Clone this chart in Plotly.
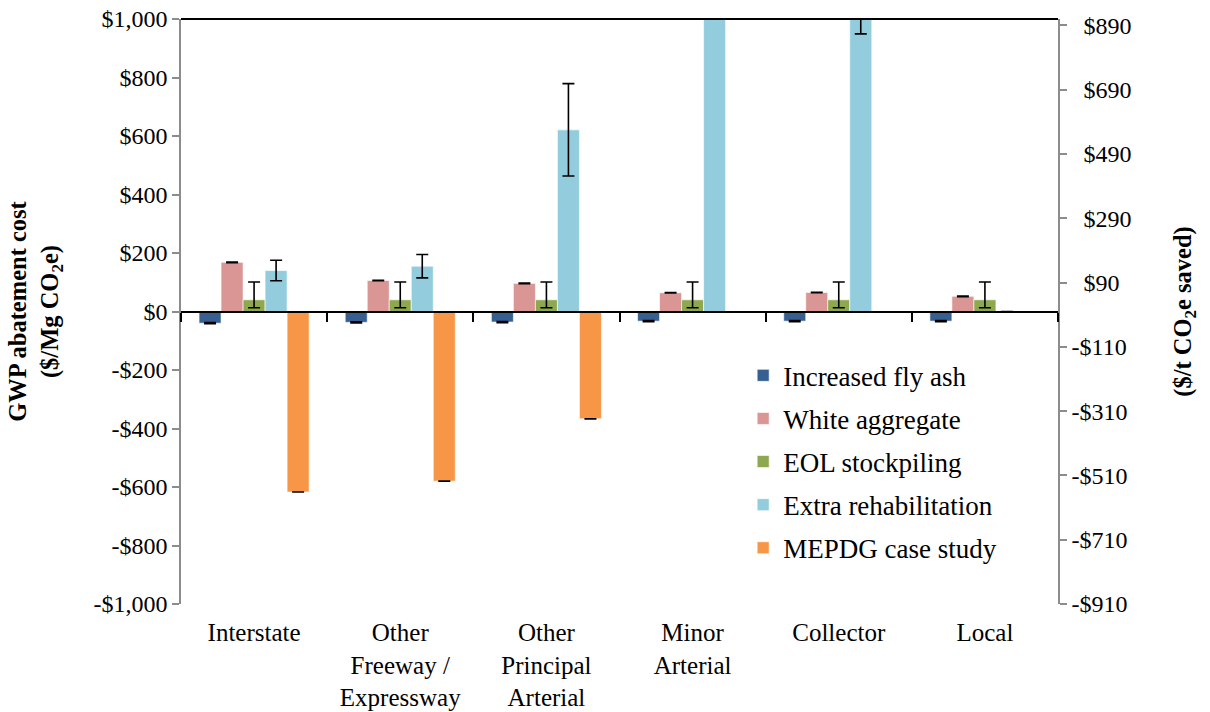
import plotly.graph_objects as go

categories = ["Interstate", "Other<br>Freeway /<br>Expressway", "Other<br>Principal<br>Arterial",
              "Minor<br>Arterial", "Collector", "Local"]

fly_ash = [-40, -37, -36, -33, -33, -33]
fly_ash_err = [2, 2, 2, 2, 2, 2]
white_agg = [168, 106, 96, 64, 65, 52]
white_agg_err = [1, 1, 1, 1, 1, 1]
eol = [40, 40, 40, 40, 40, 40]
eol_err_plus = [61, 61, 61, 61, 61, 61]
eol_err_minus = [27, 27, 27, 27, 27, 27]
rehab = [140, 155, 621, 1500, 1100, 0]
rehab_err = [35, 40, 158, 300, 151, 0]
mepdg = [-617, -580, -367, None, None, None]
mepdg_err = [0, 0, 0, 0, 0, 0]

left_ticks = [-1000, -800, -600, -400, -200, 0, 200, 400, 600, 800, 1000]
right_ticks = [-910, -710, -510, -310, -110, 90, 290, 490, 690, 890]
right_range = [-910, 910]
left_range = [-1000, 1000]

FONT = "Liberation Serif, Times New Roman, serif"


def money(v, pad=""):
    s = "${:,.0f}".format(abs(v))
    return ("-" + s) if v < 0 else pad + s


series = [
    ("Increased fly ash", fly_ash, dict(array=fly_ash_err), "#376092"),
    ("White aggregate", white_agg, dict(array=white_agg_err), "#D99694"),
    ("EOL stockpiling", eol, dict(array=eol_err_plus, arrayminus=eol_err_minus, symmetric=False), "#8EA84F"),
    ("Extra rehabilitation", rehab, dict(array=rehab_err), "#93CDDD"),
    ("MEPDG case study", mepdg, dict(array=mepdg_err), "#F79646"),
]

fig = go.Figure()
for i, (name, vals, err, col) in enumerate(series):
    e = dict(type="data", visible=True, color="black", thickness=1.6, width=6)
    e.update(err)
    fig.add_trace(go.Bar(
        name=name, x=categories, y=vals, marker=dict(color=col, line=dict(color="rgba(255,255,255,0.6)", width=1)),
        error_y=e, legendgroup=f"g{i}",
    ))

# helper trace for the secondary axes (no data)
fig.add_trace(go.Scatter(x=[], y=[], xaxis="x2", yaxis="y2", showlegend=False, hoverinfo="skip"))

n = len(categories)
fig.update_layout(
    width=1210, height=712,
    margin=dict(l=181, r=152, t=19, b=108),
    paper_bgcolor="white", plot_bgcolor="white",
    font=dict(family=FONT, size=24, color="black"),
    barmode="group", bargap=0.247, bargroupgap=0,
    showlegend=True,
    legend=dict(x=0.641, y=0.432, xanchor="left", yanchor="top", bgcolor="rgba(0,0,0,0)",
                font=dict(family=FONT, size=27), tracegroupgap=5, itemwidth=30),
    xaxis=dict(type="category", showline=False, ticks="", showgrid=False, zeroline=False,
               ticklabelstandoff=11, tickfont=dict(size=25), automargin=False),
    xaxis2=dict(overlaying="x", anchor="free", position=0.5, range=[-0.5, n - 0.5],
                tickvals=[i - 0.5 for i in range(n + 1)], showticklabels=False,
                ticks="outside", ticklen=9, tickwidth=1.5, tickcolor="black", automargin=False,
                showline=True, linecolor="black", linewidth=2, showgrid=False, zeroline=False),
    yaxis=dict(range=left_range, tickvals=left_ticks, ticktext=[money(v) for v in left_ticks],
               showgrid=False, zeroline=False, showline=True, linecolor="#8c8c8c", linewidth=1.5,
               ticks="outside", ticklen=7, tickcolor="#8c8c8c", tickwidth=1.5, automargin=False,
               ticklabeloverflow="allow",
               title=dict(text="<b>GWP abatement cost<br>($/Mg CO<sub>2</sub>e)</b>",
                          font=dict(size=24.5), standoff=28)),
    yaxis2=dict(overlaying="y", side="right", anchor="x", range=right_range,
                tickvals=right_ticks, ticktext=[money(v, pad="\u00a0\u00a0") for v in right_ticks],
                showgrid=False, zeroline=False, showline=True, linecolor="#8c8c8c", linewidth=1.5,
                ticks="outside", ticklen=7, tickcolor="#8c8c8c", tickwidth=1.5, automargin=False,
                ticklabeloverflow="allow",
                title=dict(text="<b>($/t CO<sub>2</sub>e saved)</b>", font=dict(size=24.5), standoff=43)),
    shapes=[dict(type="line", xref="paper", yref="paper", x0=0, x1=1, y0=1, y1=1,
                 line=dict(color="black", width=2))],
)

fig.write_html("out.html", config={"displayModeBar": False},
               post_script="document.body.style.margin='0';")
